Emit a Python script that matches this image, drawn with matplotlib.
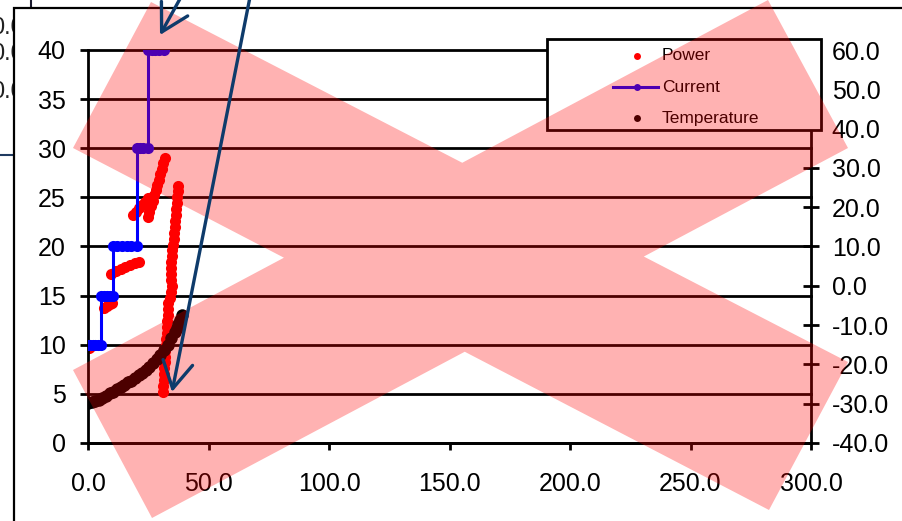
import matplotlib
matplotlib.use("Agg")
import matplotlib.pyplot as plt
from matplotlib.patches import Polygon, Rectangle, FancyArrowPatch
from matplotlib.lines import Line2D
from matplotlib.ticker import FormatStrFormatter, MultipleLocator

plt.rcParams['font.family'] = ['Liberation Sans', 'DejaVu Sans']
plt.rcParams['axes.unicode_minus'] = False

# --- Data (time on x) ---
# Current: stepped setpoints
current_time = [0, 1, 2, 3, 4, 5.2,
                5.2, 6.5, 8, 9.2, 10.2,
                10.2, 12, 14, 16, 18, 20.4,
                20.4, 21.5, 23, 24.8,
                24.8, 26.5, 28, 29.5, 31.5]
current_amps = [10, 10, 10, 10, 10, 10,
                15, 15, 15, 15, 15,
                20, 20, 20, 20, 20, 20,
                30, 30, 30, 30,
                40, 40, 40, 40, 40]

# Power samples
power_time = [0, 0.5, 1.0,
              6.8, 8.0, 9.2, 10.0,
              9.5, 11.5, 13.5, 15.5, 17.5, 19.5, 21.0,
              18.7, 19.9, 21.1, 22.3, 23.5, 24.7,
              24.9, 25.5, 26.2, 26.8, 27.5, 28.1, 28.8, 29.4, 30.0, 30.7, 31.3, 32.0,
              31.2, 31.3, 31.5, 31.6, 31.7, 31.8, 31.9, 32.0, 32.2, 32.4, 32.6, 32.7,
              32.9, 33.1, 33.2, 33.4, 34.0, 34.6, 34.7, 34.6, 34.4, 34.5, 34.6, 34.8,
              35.0, 35.3, 35.6, 35.8, 36.0, 36.2, 36.4, 36.6, 36.8, 37.0, 37.2, 37.4]
power_watts = [9.7, 9.7, 9.8,
               13.7, 13.9, 14.1, 14.3,
               17.2, 17.5, 17.7, 17.9, 18.1, 18.3, 18.4,
               23.2, 23.5, 23.9, 24.2, 24.5, 24.9,
               23.0, 23.5, 24.1, 24.6, 25.2, 25.7, 26.3, 26.8, 27.4, 27.9, 28.5, 29.0,
               5.2, 5.8, 6.4, 7.0, 7.6, 8.2, 8.8, 9.4, 10.0, 10.6, 11.2, 11.8,
               12.4, 13.0, 13.6, 14.2, 14.8, 15.4, 16.0, 16.6, 17.2, 17.8, 18.4, 19.0,
               19.6, 20.2, 20.8, 21.4, 22.0, 22.6, 23.2, 23.8, 24.4, 25.0, 25.6, 26.2]

# Temperature (secondary axis)
temp_time = [0, 1.5, 3, 4.5, 6, 7.5, 9, 10.5, 12, 13.5, 15, 16.5, 18, 19.5,
             21, 22.5, 24, 25.5, 27, 28.5, 30, 31.5, 33, 34.5, 36, 36.75,
             37.5, 38.25, 39]
temp_deg = [-29.8, -29.6, -29.3, -29.0, -28.6, -28.0, -27.4, -26.9, -26.3,
            -25.7, -25.2, -24.6, -24.1, -23.5, -22.8, -22.1, -21.3, -20.6,
            -19.7, -18.7, -17.6, -16.4, -15.0, -13.4, -11.7, -10.7, -9.7,
            -8.6, -7.5]

legend_names = ['Power', 'Current', 'Temperature']

W, H = 902, 521
fig = plt.figure(figsize=(W / 100, H / 100), dpi=100)

# pixel-space layer underneath: edge of the sheet behind + chart frame
bg = fig.add_axes([0, 0, 1, 1], zorder=0)
bg.set_xlim(0, W)
bg.set_ylim(H, 0)
bg.axis('off')
for yy in [-6, 28, 54, 92]:
    bg.text(-9, yy, '0.0', fontsize=17, va='center', ha='left',
            color='#222222', zorder=1)
bg.plot([31, 31], [0, 8], color='#1a1a2e', lw=1.5, zorder=1)
bg.plot([0, 14], [155, 155], color='#1f3a60', lw=1.5, zorder=1)
bg.add_patch(Rectangle((14, 7.5), W + 20, H + 20, facecolor='white',
                       edgecolor='black', lw=1.6, zorder=5))

# main chart
ax = fig.add_axes([88 / W, 78 / H, 723 / W, 393 / H], zorder=1)
ax.plot(power_time, power_watts, ls='none', marker='o', ms=8, mew=0,
        color='red', zorder=2)
ax.plot(current_time, current_amps, color='blue', lw=2.2, marker='o', ms=8,
        mew=0, zorder=3)
ax.set_xlim(0, 300)
ax.set_ylim(0, 40)
ax.xaxis.set_major_locator(MultipleLocator(50))
ax.xaxis.set_major_formatter(FormatStrFormatter('%.1f'))
ax.yaxis.set_major_locator(MultipleLocator(5))
ax.yaxis.grid(True, color='black', lw=2)
for gl in ax.get_ygridlines():
    gl.set_clip_on(False)
ax.tick_params(axis='y', direction='out', length=6, width=2, labelsize=18, pad=10)
ax.tick_params(axis='x', direction='out', length=5, width=2, labelsize=18, pad=16)
for s in ['top', 'right']:
    ax.spines[s].set_visible(False)
for s in ['left', 'bottom']:
    ax.spines[s].set_linewidth(2)

ax2 = ax.twinx()
ax2.plot(temp_time, temp_deg, ls='none', marker='o', ms=9, mew=0, color='black')
ax2.set_ylim(-40, 60)
ax2.yaxis.set_major_locator(MultipleLocator(10))
ax2.yaxis.set_major_formatter(FormatStrFormatter('%.1f'))
ax2.tick_params(axis='y', direction='inout', length=12, width=2, labelsize=18, pad=9)
for s in ['top', 'left', 'bottom']:
    ax2.spines[s].set_visible(False)
ax2.spines['right'].set_linewidth(2)

# top layer: legend, red cross and arrows
ov = fig.add_axes([0, 0, 1, 1], zorder=5)
ov.set_xlim(0, W)
ov.set_ylim(H, 0)
ov.axis('off')

ov.add_patch(Rectangle((547, 39), 274, 91, facecolor='white',
                       edgecolor='black', lw=2, zorder=1))
rows = [56, 87, 118]
ov.plot([637], [rows[0]], marker='o', ms=5, mew=0, color='red', zorder=2)
ov.add_line(Line2D([613, 658], [rows[1], rows[1]], color='blue', lw=2.2,
                   zorder=2))
ov.plot([637], [rows[1]], marker='o', ms=5, mew=0, color='blue', zorder=2)
ov.plot([637], [rows[2]], marker='o', ms=5, mew=0, color='black', zorder=2)
for name, yy in zip(legend_names, rows):
    ov.text(662, yy, name, fontsize=12.5, va='center', ha='left', zorder=2)


def cross(p1, p2, p3, p4):
    x1, y1 = p1
    x2, y2 = p2
    x3, y3 = p3
    x4, y4 = p4
    d = (x1 - x2) * (y3 - y4) - (y1 - y2) * (x3 - x4)
    t = ((x1 - x3) * (y3 - y4) - (y1 - y3) * (x3 - x4)) / d
    return (x1 + t * (x2 - x1), y1 + t * (y2 - y1))


# two bands of the X, merged into one outline so the overlap isn't darker
A1, A2, A3, A4 = (151, 2), (848, 362), (769, 510), (73, 148)
B1, B2, B3, B4 = (73, 370), (768, 0), (848, 148), (152, 518)
verts = [A1, cross(A1, A2, B1, B2), B2, B3, cross(B3, B4, A1, A2), A2, A3,
         cross(A3, A4, B3, B4), B4, B1, cross(B1, B2, A3, A4), A4]
ov.add_patch(Polygon(verts, closed=True, facecolor='red', alpha=0.3,
                     edgecolor='none', zorder=3))

for start, end in [((181, -3), (160, 35)), ((250, -3), (172, 392))]:
    ov.add_patch(FancyArrowPatch(start, end,
                                 arrowstyle='->,head_length=1.6,head_width=0.9',
                                 mutation_scale=12, lw=2.4, color='#0e3b6b',
                                 shrinkA=0, shrinkB=0, zorder=4))

fig.savefig('out.png', dpi=100)
